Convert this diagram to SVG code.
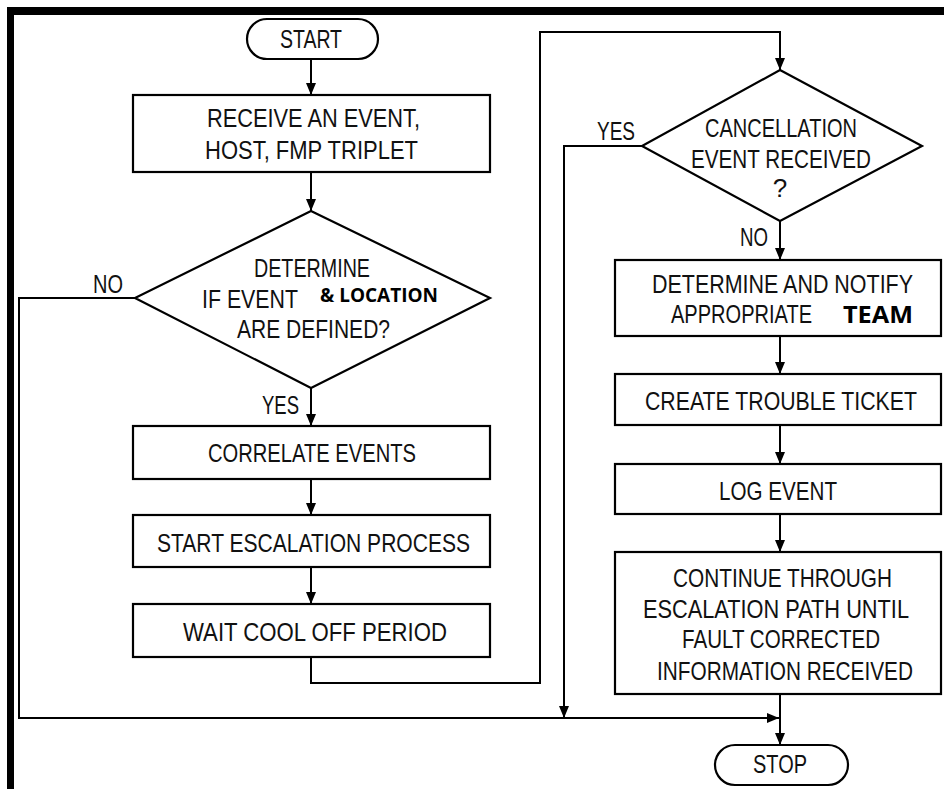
<svg xmlns="http://www.w3.org/2000/svg" width="944" height="789" viewBox="0 0 944 789">
<defs>
<marker id="ah" markerUnits="userSpaceOnUse" markerWidth="12" markerHeight="14" refX="12" refY="5" orient="auto">
<path d="M0,0 L12,5 L0,10 Z" fill="#000"/>
</marker>
<style>
.shape{fill:#fff;stroke:#000;stroke-width:2.2}
.t{font-family:"Liberation Sans",Arial,sans-serif;font-size:26px;fill:#111;text-anchor:middle}
.b{font-family:"Open Sans","Liberation Sans",sans-serif;font-weight:bold;fill:#000;text-anchor:middle}
.c{fill:none;stroke:#000;stroke-width:2}
</style>
</defs>
<rect width="944" height="789" fill="#fff"/>
<g id="frame">
<rect x="7" y="7" width="937" height="8" fill="#000"/>
<rect x="7" y="7" width="7" height="782" fill="#000"/>
</g>
<g id="connectors">
<line class="c" x1="311" y1="59" x2="311" y2="95" marker-end="url(#ah)"/>
<line class="c" x1="311" y1="172" x2="311" y2="211" marker-end="url(#ah)"/>
<line class="c" x1="311" y1="388" x2="311" y2="426" marker-end="url(#ah)"/>
<line class="c" x1="311" y1="479" x2="311" y2="515" marker-end="url(#ah)"/>
<line class="c" x1="311" y1="567" x2="311" y2="604" marker-end="url(#ah)"/>
<polyline class="c" points="311,657 311,683 540,683 540,32 780,32 780,70" marker-end="url(#ah)"/>
<polyline class="c" points="135,298 19,298 19,718 779,718" marker-end="url(#ah)"/>
<polyline class="c" points="642,146 564,146 564,718" marker-end="url(#ah)"/>
<line class="c" x1="780" y1="221" x2="780" y2="260" marker-end="url(#ah)"/>
<line class="c" x1="780" y1="336" x2="780" y2="374" marker-end="url(#ah)"/>
<line class="c" x1="780" y1="425" x2="780" y2="464" marker-end="url(#ah)"/>
<line class="c" x1="780" y1="514" x2="780" y2="552" marker-end="url(#ah)"/>
<line class="c" x1="780" y1="694" x2="780" y2="745" marker-end="url(#ah)"/>
<text class="t" x="108" y="293" textLength="30" lengthAdjust="spacingAndGlyphs">NO</text>
<text class="t" x="280.5" y="414" textLength="37" lengthAdjust="spacingAndGlyphs">YES</text>
<text class="t" x="616" y="140" textLength="38" lengthAdjust="spacingAndGlyphs">YES</text>
<text class="t" x="754" y="246" textLength="28" lengthAdjust="spacingAndGlyphs">NO</text>
</g>
<g id="start">
<rect class="shape" x="247" y="19" width="131" height="40" rx="20"/>
<text class="t" x="311" y="48" textLength="62" lengthAdjust="spacingAndGlyphs">START</text>
</g>
<g id="receive">
<rect class="shape" x="133" y="95" width="357" height="77"/>
<text class="t" x="313.5" y="127" textLength="213" lengthAdjust="spacingAndGlyphs">RECEIVE AN EVENT,</text>
<text class="t" x="311.5" y="159" textLength="213" lengthAdjust="spacingAndGlyphs">HOST, FMP TRIPLET</text>
</g>
<g id="determine">
<polygon class="shape" points="311,211 490,298 311,388 135,298"/>
<text class="t" x="312" y="277" textLength="116" lengthAdjust="spacingAndGlyphs">DETERMINE</text>
<text class="t" x="250" y="308" textLength="96" lengthAdjust="spacingAndGlyphs">IF EVENT</text>
<text class="b" x="379" y="302" font-size="19" textLength="118" lengthAdjust="spacingAndGlyphs">&amp; LOCATION</text>
<text class="t" x="313.5" y="338" textLength="153" lengthAdjust="spacingAndGlyphs">ARE DEFINED?</text>
</g>
<g id="correlate">
<rect class="shape" x="133" y="426" width="357" height="53"/>
<text class="t" x="312" y="462" textLength="208" lengthAdjust="spacingAndGlyphs">CORRELATE EVENTS</text>
</g>
<g id="escalation">
<rect class="shape" x="133" y="515" width="357" height="52"/>
<text class="t" x="313.5" y="552" textLength="313" lengthAdjust="spacingAndGlyphs">START ESCALATION PROCESS</text>
</g>
<g id="wait">
<rect class="shape" x="133" y="604" width="357" height="53"/>
<text class="t" x="315" y="641" textLength="264" lengthAdjust="spacingAndGlyphs">WAIT COOL OFF PERIOD</text>
</g>
<g id="cancellation">
<polygon class="shape" points="780,70 922,146 780,221 642,146"/>
<text class="t" x="781" y="137" textLength="152" lengthAdjust="spacingAndGlyphs">CANCELLATION</text>
<text class="t" x="781" y="168" textLength="180" lengthAdjust="spacingAndGlyphs">EVENT RECEIVED</text>
<text class="t" x="780" y="197">?</text>
</g>
<g id="notify">
<rect class="shape" x="615" y="260" width="326" height="76"/>
<text class="t" x="782.5" y="293" textLength="261" lengthAdjust="spacingAndGlyphs">DETERMINE AND NOTIFY</text>
<text class="t" x="741.5" y="323" textLength="141" lengthAdjust="spacingAndGlyphs">APPROPRIATE</text>
<text class="b" x="878" y="323" font-size="24" textLength="70" lengthAdjust="spacingAndGlyphs">TEAM</text>
</g>
<g id="ticket">
<rect class="shape" x="615" y="374" width="326" height="51"/>
<text class="t" x="781" y="410" textLength="272" lengthAdjust="spacingAndGlyphs">CREATE TROUBLE TICKET</text>
</g>
<g id="log">
<rect class="shape" x="615" y="464" width="326" height="50"/>
<text class="t" x="778" y="500" textLength="118" lengthAdjust="spacingAndGlyphs">LOG EVENT</text>
</g>
<g id="continue">
<rect class="shape" x="615" y="552" width="326" height="142"/>
<text class="t" x="782.5" y="587" textLength="219" lengthAdjust="spacingAndGlyphs">CONTINUE THROUGH</text>
<text class="t" x="776" y="618" textLength="266" lengthAdjust="spacingAndGlyphs">ESCALATION PATH UNTIL</text>
<text class="t" x="781" y="648" textLength="198" lengthAdjust="spacingAndGlyphs">FAULT CORRECTED</text>
<text class="t" x="785" y="680" textLength="256" lengthAdjust="spacingAndGlyphs">INFORMATION RECEIVED</text>
</g>
<g id="stop">
<rect class="shape" x="715" y="745" width="133" height="40" rx="20"/>
<text class="t" x="780" y="773" textLength="54" lengthAdjust="spacingAndGlyphs">STOP</text>
</g>
</svg>
